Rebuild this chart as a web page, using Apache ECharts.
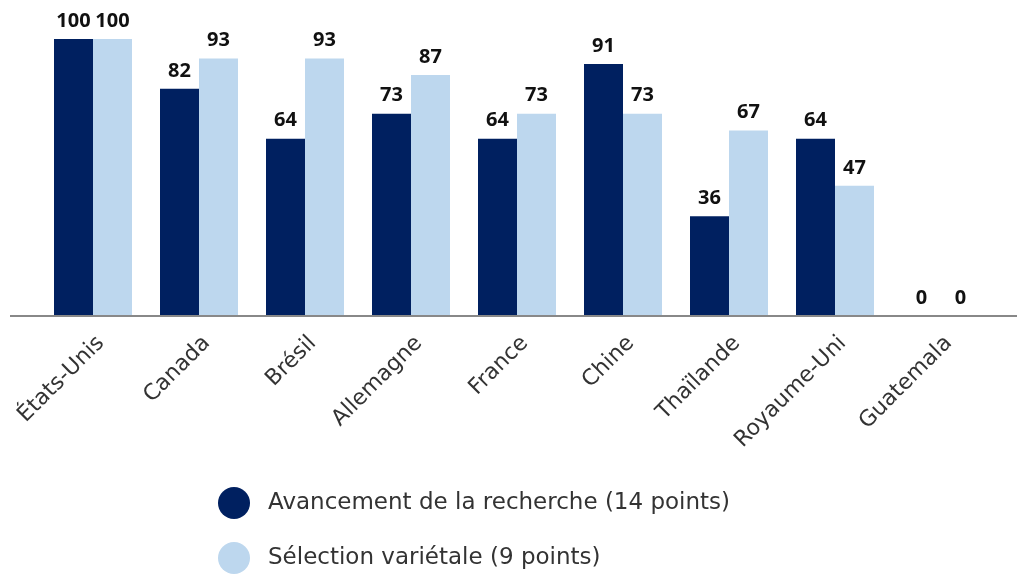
<!DOCTYPE html>
<html>
	<head>
		<meta charset="utf-8">
		<title>Avancement</title>
		<script src="https://cdn.jsdelivr.net/npm/echarts@6/dist/echarts.min.js" type="text/javascript" charset="utf-8"></script>
		<style>
			html,body{margin:0;padding:0;background:#fff;}
			#chart{width:1017px;height:575px;}
		</style>
	</head>
	<body>
		<div id="chart"></div>
		<script type="text/javascript">
			// pays
			var categories = ['États-Unis', 'Canada', 'Brésil', 'Allemagne', 'France', 'Chine', 'Thaïlande', 'Royaume-Uni', 'Guatemala'];
			var seriesNames = ['Avancement de la recherche (14 points)', 'Sélection variétale (9 points)'];
			var rechercheData = [100, 82, 64, 73, 64, 91, 36, 64, 0];
			var selectionData = [100, 93, 93, 87, 73, 73, 67, 47, 0];

			var myChart = echarts.init(document.getElementById('chart'));
			var txtFont = '"DejaVu Sans", "Noto Sans", sans-serif';
			var labelStyle = {
				show: true,
				position: 'top',
				distance: 8,
				color: '#111',
				fontWeight: 'bold',
				fontSize: 20,
				fontFamily: '"Noto Sans", sans-serif'
			};
			var option = {
				animation: false,
				grid: {
					left: 40,
					right: 23,
					top: 39,
					height: 277
				},
				legend: {
					orient: 'vertical',
					left: 218,
					top: 487,
					padding: 0,
					icon: 'circle',
					itemWidth: 32,
					itemHeight: 32,
					itemGap: 23,
					textStyle: {color: '#333', fontSize: 23, fontFamily: txtFont, padding: [0, 0, 0, 13]},
					data: seriesNames
				},
				xAxis: {
					type: 'category',
					data: categories,
					axisLine: {show: false},
					axisTick: {show: false},
					axisLabel: {
						interval: 0,
						rotate: 45,
						margin: 16,
						verticalAlign: 'top',
						color: '#333',
						fontSize: 22,
						fontFamily: txtFont
					}
				},
				yAxis: {
					type: 'value',
					min: 0,
					max: 100,
					show: false,
					splitLine: {show: false}
				},
				series: [{
					name: seriesNames[0],
					type: 'bar',
					barWidth: 39,
					barGap: '0%',
					itemStyle: {color: '#002060'},
					label: labelStyle,
					data: rechercheData
				}, {
					name: seriesNames[1],
					type: 'bar',
					barWidth: 39,
					itemStyle: {color: '#BDD7EE'},
					label: labelStyle,
					data: selectionData
				}],
				// ligne de base qui dépasse la zone des barres
				graphic: [{
					type: 'line',
					shape: {x1: 10, y1: 316, x2: 1017, y2: 316},
					style: {stroke: '#888', lineWidth: 2},
					z: 10
				}]
			};
			myChart.setOption(option);
		</script>
	</body>
</html>
